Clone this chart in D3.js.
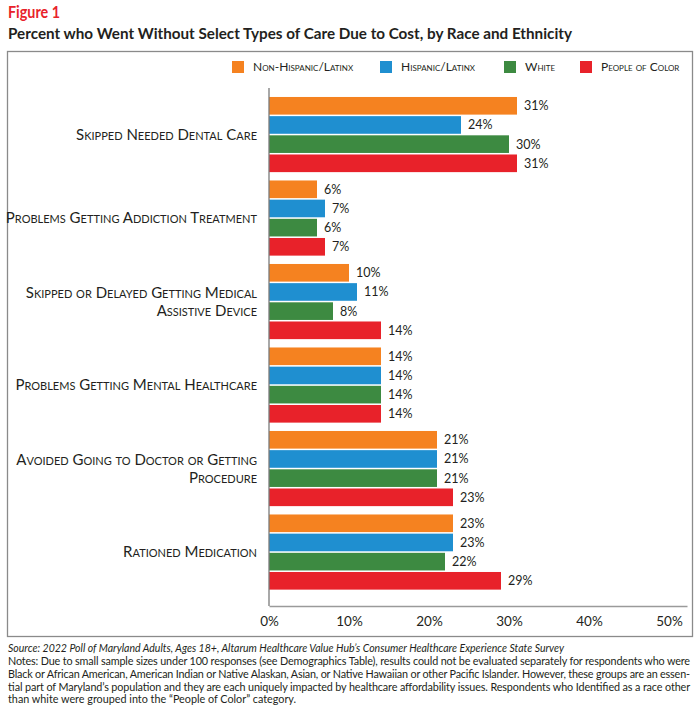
<!DOCTYPE html>
<html>
<head>
<meta charset="utf-8">
<script src="https://cdn.jsdelivr.net/npm/d3@7"></script>
<style>
  body { margin: 0; background: #fff; }
  svg { display: block; font-family: Lato, "Open Sans", sans-serif; }
  .cat { font-variant: small-caps; }
</style>
</head>
<body>
<svg id="chart" width="700" height="712"></svg>
<script>
// Data
const categories = [
    ["Skipped Needed Dental Care"],
    ["Problems Getting Addiction Treatment"],
    ["Skipped or Delayed Getting Medical", "Assistive Device"],
    ["Problems Getting Mental Healthcare"],
    ["Avoided Going to Doctor or Getting", "Procedure"],
    ["Rationed Medication"]
];
const seriesNames = ["Non-Hispanic/Latinx", "Hispanic/Latinx", "White", "People of Color"];
const seriesColors = ["#f58220", "#1f8fd0", "#3d8a41", "#e8222a"];
const nonHispanic = [31, 6, 10, 14, 21, 23];
const hispanic = [24, 7, 11, 14, 21, 23];
const white = [30, 6, 8, 14, 21, 22];
const peopleOfColor = [31, 7, 14, 14, 23, 29];
const xTicks = [0, 10, 20, 30, 40, 50];

const notes = [
    "Notes: Due to small sample sizes under 100 responses (see Demographics Table), results could not be evaluated separately for respondents who were",
    "Black or African American, American Indian or Native Alaskan, Asian, or Native Hawaiian or other Pacific Islander. However, these groups are an essen-",
    "tial part of Maryland\u2019s population and they are each uniquely impacted by healthcare affordability issues. Respondents who Identified as a race other",
    "than white were grouped into the \u201cPeople of Color\u201d category."
];

const allSeries = [nonHispanic, hispanic, white, peopleOfColor];
const rows = categories.map((c, i) => ({
    idx: i,
    label: c,
    values: allSeries.map((s, j) => ({ series: j, value: s[i] }))
}));

const svg = d3.select("#chart");

// titles
svg.append("text")
    .attr("x", 8).attr("y", 18)
    .attr("font-size", 17).attr("font-weight", 700)
    .attr("fill", "#e8222a")
    .attr("textLength", 52).attr("lengthAdjust", "spacingAndGlyphs")
    .text("Figure 1");

svg.append("text")
    .attr("x", 8).attr("y", 39)
    .attr("font-size", 15.5).attr("font-weight", 700)
    .attr("fill", "#231f20")
    .attr("textLength", 564).attr("lengthAdjust", "spacingAndGlyphs")
    .text("Percent who Went Without Select Types of Care Due to Cost, by Race and Ethnicity");

// frame
svg.append("rect")
    .attr("x", 7.5).attr("y", 51.5)
    .attr("width", 685).attr("height", 585)
    .attr("fill", "none").attr("stroke", "#8a8a8a").attr("stroke-width", 1.3);

// scales
const x = d3.scaleLinear().domain([0, 52.25]).range([269, 687]);
const y0 = d3.scaleBand().domain(rows.map(d => d.idx)).range([92.8, 593.8])
    .paddingInner(0.1).paddingOuter(0.05);
const y1 = d3.scaleBand().domain(d3.range(seriesNames.length)).range([0, y0.bandwidth()])
    .paddingInner(0.08);
const color = d3.scaleOrdinal().domain(d3.range(seriesNames.length)).range(seriesColors);

// legend
const legendX = [232, 380, 504, 580];
const legend = svg.append("g").selectAll("g")
    .data(seriesNames)
    .join("g")
    .attr("transform", (d, i) => `translate(${legendX[i]},61)`);
legend.append("rect")
    .attr("width", 12).attr("height", 12)
    .attr("fill", (d, i) => color(i));
legend.append("text")
    .attr("class", "cat")
    .attr("x", 21).attr("y", 6).attr("dy", "0.35em")
    .attr("font-size", 12).attr("fill", "#231f20")
    .text(d => d);

// bars
const groups = svg.append("g").selectAll("g")
    .data(rows)
    .join("g")
    .attr("transform", d => `translate(0,${y0(d.idx)})`);

groups.selectAll("rect")
    .data(d => d.values)
    .join("rect")
    .attr("x", x(0))
    .attr("y", d => y1(d.series))
    .attr("width", d => x(d.value) - x(0))
    .attr("height", y1.bandwidth())
    .attr("fill", d => color(d.series));

groups.selectAll("text.val")
    .data(d => d.values)
    .join("text")
    .attr("class", "val")
    .attr("x", d => x(d.value) + 7)
    .attr("y", d => y1(d.series) + y1.bandwidth() / 2)
    .attr("dy", "0.35em")
    .attr("font-size", 12.5).attr("fill", "#231f20")
    .text(d => d.value + "%");

// category labels
groups.append("text")
    .attr("class", "cat")
    .attr("text-anchor", "end")
    .attr("font-size", 15).attr("fill", "#231f20")
    .each(function(d) {
        const t = d3.select(this);
        const n = d.label.length;
        d.label.forEach((line, k) => {
            t.append("tspan")
                .attr("x", 257)
                .attr("y", y0.bandwidth() / 2 + (k - (n - 1) / 2) * 18)
                .attr("dy", "0.35em")
                .text(line);
        });
    });

// axes
svg.append("line")
    .attr("x1", x(0)).attr("x2", x(0))
    .attr("y1", 88).attr("y2", 606)
    .attr("stroke", "#7a7a7a").attr("stroke-width", 1.3);

const xAxis = svg.append("g")
    .attr("transform", "translate(0,606)")
    .call(d3.axisBottom(x).tickValues(xTicks).tickFormat(d => d + "%").tickSize(0).tickPadding(10));
xAxis.select(".domain").attr("stroke", "#9a9a9a").attr("stroke-width", 1.3);
xAxis.selectAll("text")
    .attr("font-family", "Lato, sans-serif")
    .attr("font-size", 13.5).attr("fill", "#231f20");

// footnotes
svg.append("text")
    .attr("x", 8).attr("y", 652)
    .attr("font-size", 10.8).attr("font-style", "italic").attr("fill", "#231f20")
    .attr("textLength", 556).attr("lengthAdjust", "spacingAndGlyphs")
    .text("Source: 2022 Poll of Maryland Adults, Ages 18+, Altarum Healthcare Value Hub\u2019s Consumer Healthcare Experience State Survey");

svg.append("g").selectAll("text")
    .data(notes)
    .join("text")
    .attr("x", 8)
    .attr("y", (d, i) => 665 + i * 12.8)
    .attr("font-size", 10.8).attr("fill", "#231f20")
    .attr("textLength", (d, i) => i < 3 ? 682 : null)
    .attr("lengthAdjust", "spacing")
    .text(d => d);
</script>
</body>
</html>
